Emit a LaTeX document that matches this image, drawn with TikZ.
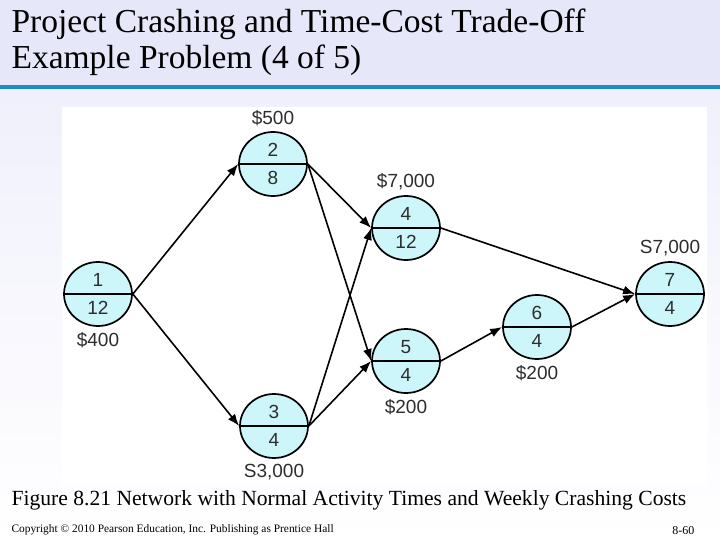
\documentclass[tikz,border=0pt]{standalone}
\usepackage{fontspec}
\setmainfont{Liberation Serif}
\setsansfont{Liberation Sans}
\usetikzlibrary{arrows.meta,positioning,shapes.geometric}
\definecolor{hdr}{RGB}{231,231,250}
\definecolor{rulecol}{RGB}{26,142,191}
\definecolor{pale}{RGB}{240,240,252}
\definecolor{evfill}{RGB}{204,246,250}
\definecolor{numgray}{RGB}{45,45,45}

\begin{document}
\begin{tikzpicture}[x=1pt,y=-1pt,
    event/.style={ellipse,draw,line width=1.7pt,fill=evfill,
      minimum width=68pt,minimum height=64pt,inner sep=0pt},
    num/.style={font=\sffamily\fontsize{19}{19}\selectfont,text=numgray},
    act/.style={-{Latex[length=12pt,width=9pt]},line width=1.6pt}]
  \useasboundingbox (0,0) rectangle (720,540);
  % slide background
  \fill[hdr] (0,0) rectangle (720,85);
  \fill[rulecol] (0,85) rectangle (720,90);
  \shade[top color=pale,bottom color=white] (0,90) rectangle (720,540);
  \fill[white] (62,107) rectangle (707,485);

  \node[anchor=base west,font=\fontsize{33.5}{36}\selectfont] (title1) at (8,33)
    {Project Crashing and Time-Cost Trade-Off};
  \node[anchor=base west,font=\fontsize{33.5}{36}\selectfont] (title2) at (8,69)
    {Example Problem (4 of 5)};

  % events: name/x/y/top/bottom/cost/side
  \foreach \n/\px/\py/\t/\b/\c/\s in {
      1/98/294/1/12/\$400/below,
      2/273/164/2/8/\$500/above,
      3/274/426/3/4/{S3,000}/below,
      4/406/228/4/12/{\$7,000}/above,
      5/406/361/5/4/\$200/below,
      6/537/327/6/4/\$200/below,
      7/670/294/7/4/{S7,000}/above}{
    \node[event,label={[num,label distance=2pt]\s:\c}] (e\n) at (\px,\py) {};
    \draw[line width=1.7pt] (e\n.west) -- (e\n.east);
    \node[num] at ([yshift=14pt]e\n.center) {\t};
    \node[num] at ([yshift=-14pt]e\n.center) {\b};
  }

  \foreach \a/\b in {1/2,1/3,2/4,2/5,3/4,3/5,4/7,5/6,6/7}
    \draw[act] (e\a.east) -- (e\b.west);

  \node[anchor=base west,font=\fontsize{21.6}{24}\selectfont] (caption) at (8,505)
    {Figure 8.21 Network with Normal Activity Times and Weekly Crashing Costs};
  \node[anchor=base west,font=\fontsize{11.4}{13}\selectfont] (copy) at (8,532)
    {Copyright \textcopyright{} 2010 Pearson Education, Inc. Publishing as Prentice Hall};
  \node[anchor=base east,font=\fontsize{12}{13}\selectfont] (pageno) at (698,534)
    {8-60};
\end{tikzpicture}
\end{document}
